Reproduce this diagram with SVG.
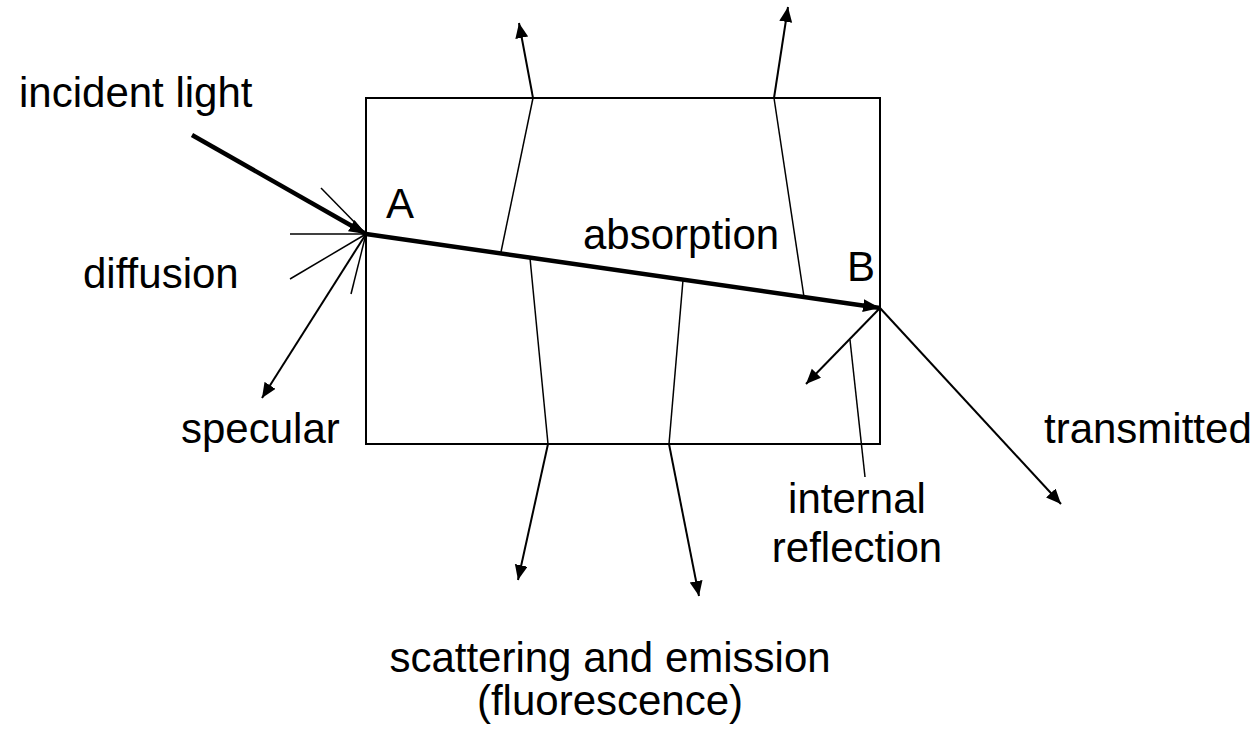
<svg xmlns="http://www.w3.org/2000/svg" width="1256" height="731" viewBox="0 0 1256 731">
<style>
  text { font-family: "Liberation Sans", Arial, sans-serif; font-size: 42px; fill: #000; }
  .thin { stroke: #000; stroke-width: 1.5; fill: none; }
  .arrow { stroke: #000; stroke-width: 2; fill: none; marker-end: url(#ah); }
  .thick { stroke: #000; stroke-width: 4.5; fill: none; marker-end: url(#ahb); }
  .box { stroke: #000; stroke-width: 2; fill: #fff; }
</style>
<defs>
  <marker id="ah" markerUnits="userSpaceOnUse" markerWidth="16" markerHeight="14" refX="15" refY="6.5" orient="auto">
    <path d="M0,0 L15,6.5 L0,13 z" fill="#000"/>
  </marker>
  <marker id="ahb" markerUnits="userSpaceOnUse" markerWidth="18" markerHeight="14" refX="17" refY="6.5" orient="auto">
    <path d="M0,0 L17,6.5 L0,13 z" fill="#000"/>
  </marker>
</defs>
<rect width="1256" height="731" fill="#fff"/>
<g id="sample">
  <rect class="box" x="366" y="98" width="514" height="346"/>
</g>
<g id="connectors">
  <!-- inside scattering lines -->
  <line class="thin" x1="533" y1="98" x2="501" y2="252"/>
  <line class="thin" x1="774" y1="98" x2="804" y2="297"/>
  <line class="thin" x1="548" y1="444" x2="530" y2="258"/>
  <line class="thin" x1="669" y1="444" x2="683" y2="280"/>
  <!-- outgoing scattering arrows -->
  <line class="arrow" x1="533" y1="98" x2="519" y2="23"/>
  <line class="arrow" x1="774" y1="98" x2="788" y2="7"/>
  <line class="arrow" x1="548" y1="444" x2="518" y2="580"/>
  <line class="arrow" x1="669" y1="444" x2="699" y2="596"/>
  <!-- diffusion -->
  <line class="thin" x1="366" y1="234" x2="321" y2="188"/>
  <line class="thin" x1="366" y1="234" x2="290" y2="234"/>
  <line class="thin" x1="366" y1="234" x2="290" y2="279"/>
  <line class="thin" x1="366" y1="234" x2="351" y2="294"/>
  <!-- specular -->
  <line class="arrow" x1="366" y1="234" x2="262" y2="398"/>
  <!-- incident & absorption path -->
  <line class="thick" x1="192" y1="135" x2="366" y2="234"/>
  <line class="thick" x1="366" y1="234" x2="880" y2="308"/>
  <!-- internal reflection & transmitted -->
  <line class="arrow" x1="880" y1="308" x2="806" y2="384"/>
  <line class="thin" x1="850" y1="340" x2="865" y2="477"/>
  <line class="arrow" x1="880" y1="308" x2="1061" y2="504"/>
</g>
<g id="labels">
  <text x="19" y="107">incident light</text>
  <text x="83" y="288">diffusion</text>
  <text x="181" y="443">specular</text>
  <text x="386" y="218">A</text>
  <text x="583" y="249">absorption</text>
  <text x="847" y="281">B</text>
  <text x="1044" y="443">transmitted</text>
  <text text-anchor="middle"><tspan x="857" y="513">internal</tspan><tspan x="857" y="562">reflection</tspan></text>
  <text text-anchor="middle"><tspan x="610" y="672">scattering and emission</tspan><tspan x="610" y="715">(fluorescence)</tspan></text>
</g>
</svg>
